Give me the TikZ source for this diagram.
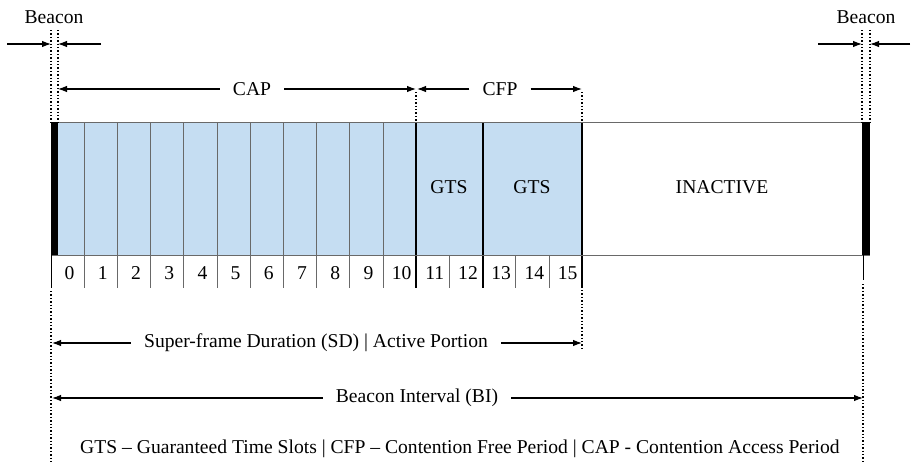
\documentclass[tikz,border=0pt]{standalone}
\usepackage{fontspec}
\setmainfont{Liberation Serif}
\usetikzlibrary{arrows.meta}
\definecolor{slotblue}{RGB}{197,221,242}
\definecolor{framegray}{RGB}{105,105,105}
\tikzset{
  lbl/.style={inner sep=0pt, font=\fontsize{19.6}{22}\selectfont},
  spanlbl/.style={lbl, inner xsep=13pt},
  span/.style={-{Latex[length=9pt,width=6.5pt]}, line width=1.1pt},
  guide/.style={line width=1.3pt, dash pattern=on 1.3pt off 2.1pt},
}
\begin{document}
\begin{tikzpicture}[x=1pt,y=-1pt]
    \useasboundingbox (0,0) rectangle (911,464);
    % Active part
    \fill[slotblue] (51,122) rectangle (582,255);
    % Slot borders
    \foreach \i in {1,...,10}
      \draw[framegray, line width=1pt] ({51+33.2*\i},122) -- ({51+33.2*\i},288);
    \foreach \i in {12,14,15}
      \draw[framegray, line width=1pt] ({51+33.2*\i},255) -- ({51+33.2*\i},288);
    \foreach \i in {11,13,16}
      \draw[line width=1.8pt] ({51+33.2*\i},122) -- ({51+33.2*\i},288);
    % Frame
    \draw[framegray, line width=1pt] (51,122) -- (870,122);
    \draw[framegray, line width=1pt] (51,255) -- (870,255);
    \draw[line width=1pt] (51,255) -- (51,288);
    \draw[line width=1pt] (863,255) -- (863,280);
    % Beacons
    \fill (51,122) rectangle (58,255);
    \fill (862,122) rectangle (870,255);
    % Slot numbers
    \foreach \i in {0,...,15}
      \node[lbl] (n\i) at ({51+33.2*\i+18.6},273) {\i};
    \node[lbl] (gts1) at (449,187) {GTS};
    \node[lbl] (gts2) at (532,187) {GTS};
    \node[lbl] (inactive) at (722,187) {INACTIVE};
    % Guides
    \draw[guide] (51,30) -- (51,122);
    \draw[guide] (58,30) -- (58,122);
    \draw[guide] (862,30) -- (862,122);
    \draw[guide] (870,30) -- (870,122);
    \draw[guide] (416,92) -- (416,122);
    \draw[guide] (582,92) -- (582,122);
    \draw[guide] (582,290) -- (582,351);
    \draw[guide] (51,291) -- (51,464);
    \draw[guide] (863,284) -- (863,464);
    % Beacon marks
    \node[lbl] (beaconl) at (54,17) {Beacon};
    \node[lbl] (beaconr) at (866,17) {Beacon};
    \coordinate (bl1) at (7,44);
    \coordinate (bl2) at (51,44);
    \coordinate (bl3) at (101,44);
    \coordinate (bl4) at (58,44);
    \coordinate (br1) at (818,44);
    \coordinate (br2) at (862,44);
    \coordinate (br3) at (910,44);
    \coordinate (br4) at (870,44);
    \draw[span] (bl1) -- (bl2);
    \draw[span] (bl3) -- (bl4);
    \draw[span] (br1) -- (br2);
    \draw[span] (br3) -- (br4);
    % Periods
    \node[spanlbl] (cap) at (252,89) {CAP};
    \node[spanlbl] (cfp) at (500,89) {CFP};
    \node[spanlbl] (sd) at (316,343) {Super-frame Duration (SD) | Active Portion};
    \node[spanlbl] (bi) at (417,398) {Beacon Interval (BI)};
    \coordinate (capl) at (58,89);
    \coordinate (capr) at (416,89);
    \coordinate (cfpl) at (417,89);
    \coordinate (cfpr) at (582,89);
    \coordinate (sdl) at (52,343);
    \coordinate (sdr) at (582,343);
    \coordinate (bil) at (52,398);
    \coordinate (bir) at (863,398);
    \draw[span] (cap) -- (capl);
    \draw[span] (cap) -- (capr);
    \draw[span] (cfp) -- (cfpl);
    \draw[span] (cfp) -- (cfpr);
    \draw[span] (sd) -- (sdl);
    \draw[span] (sd) -- (sdr);
    \draw[span] (bi) -- (bil);
    \draw[span] (bi) -- (bir);
    % Legend
    \node[lbl] (legend) at (460,449) {GTS -- Guaranteed Time Slots | CFP -- Contention Free Period | CAP - Contention Access Period};
\end{tikzpicture}
\end{document}
